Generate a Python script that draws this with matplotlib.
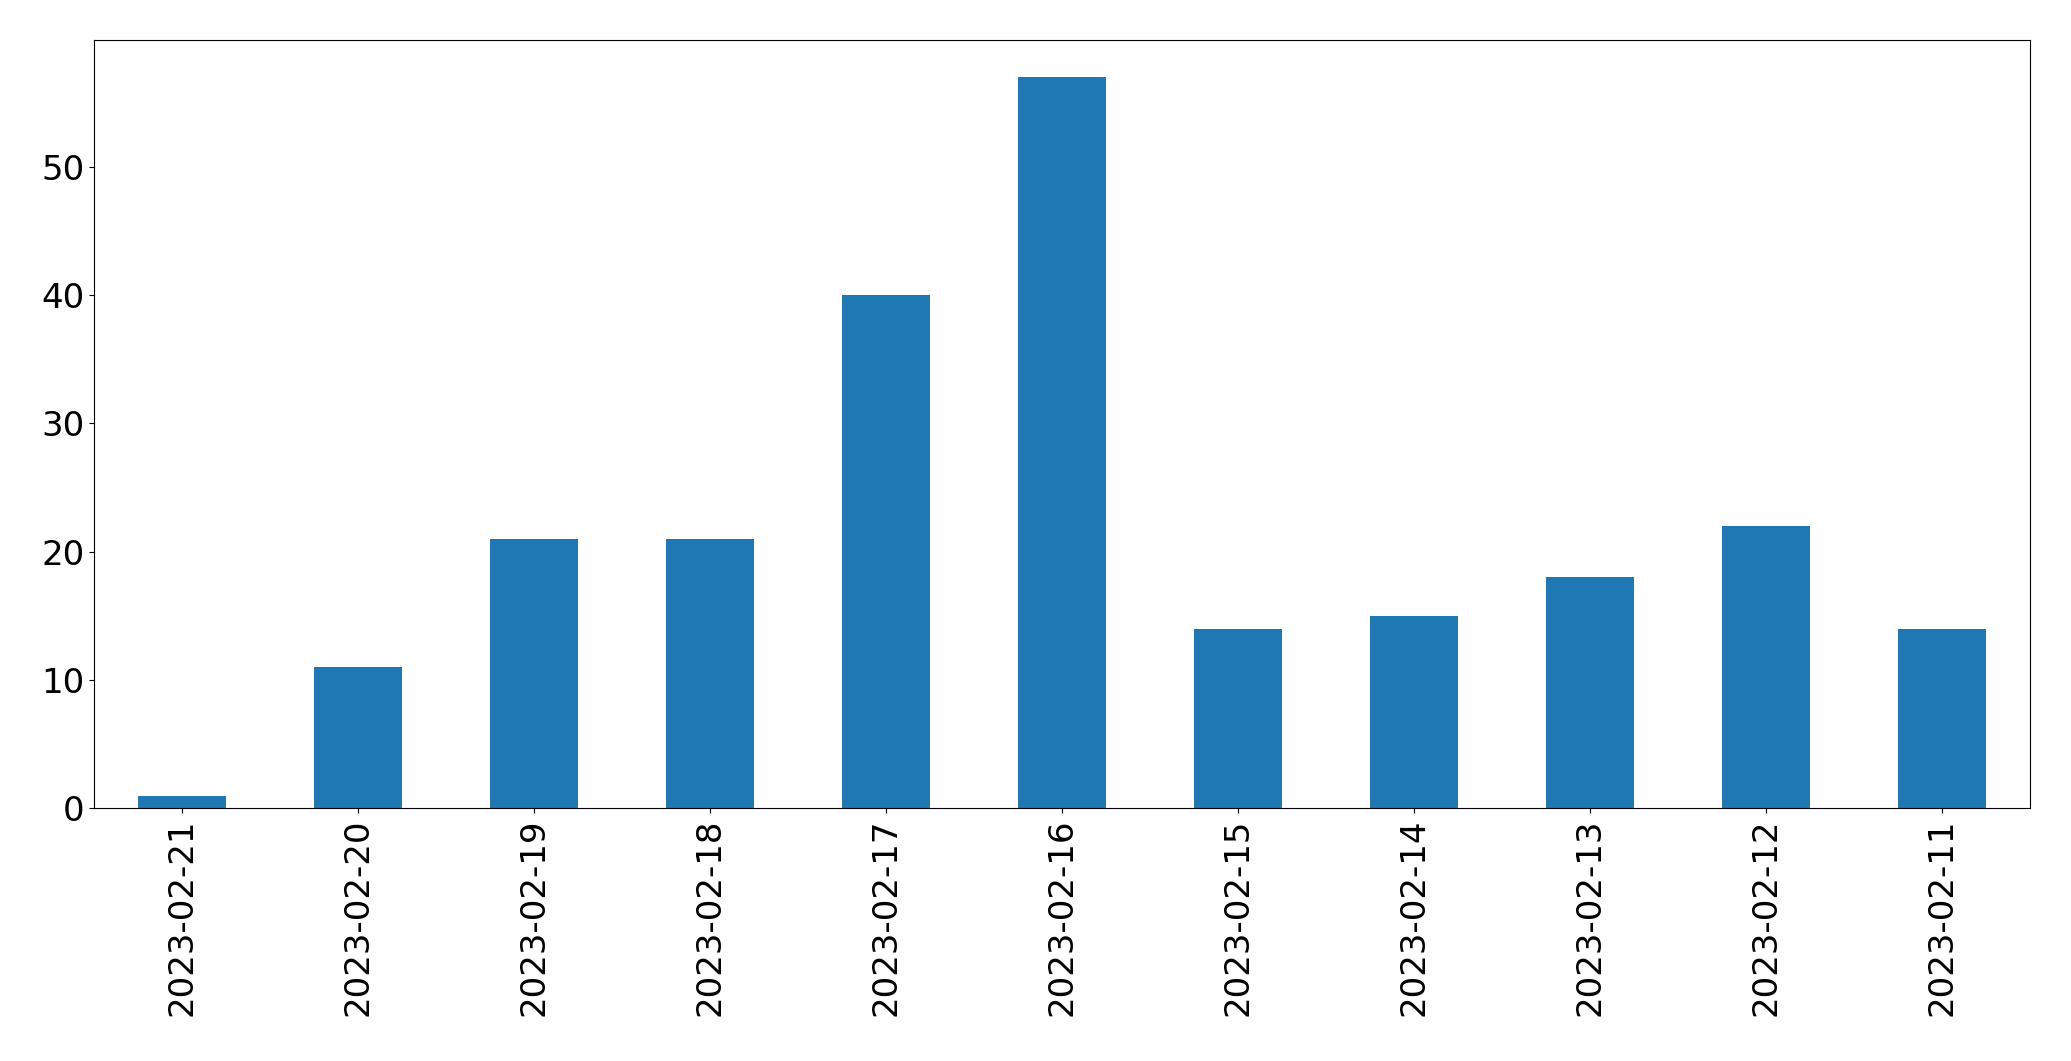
import matplotlib
matplotlib.use("Agg")
import matplotlib.pyplot as plt

dates = ["2023-02-21", "2023-02-20", "2023-02-19", "2023-02-18", "2023-02-17",
         "2023-02-16", "2023-02-15", "2023-02-14", "2023-02-13", "2023-02-12", "2023-02-11"]
counts = [1, 11, 21, 21, 40, 57, 14, 15, 18, 22, 14]

fig = plt.figure(figsize=(20.71, 10.61), dpi=100)
ax = fig.add_axes([0.0454, 0.238, 0.9346, 0.724])
x = range(len(dates))
ax.bar(x, counts, width=0.5, color="#1f77b4")
ax.set_xlim(-0.5, len(dates) - 0.5)
ax.set_ylim(0, max(counts) * 1.05)
ax.set_xticks(list(x))
ax.set_xticklabels(dates, rotation=90)
ax.tick_params(axis="both", labelsize=24.5)
fig.savefig("out.png", dpi=100)
